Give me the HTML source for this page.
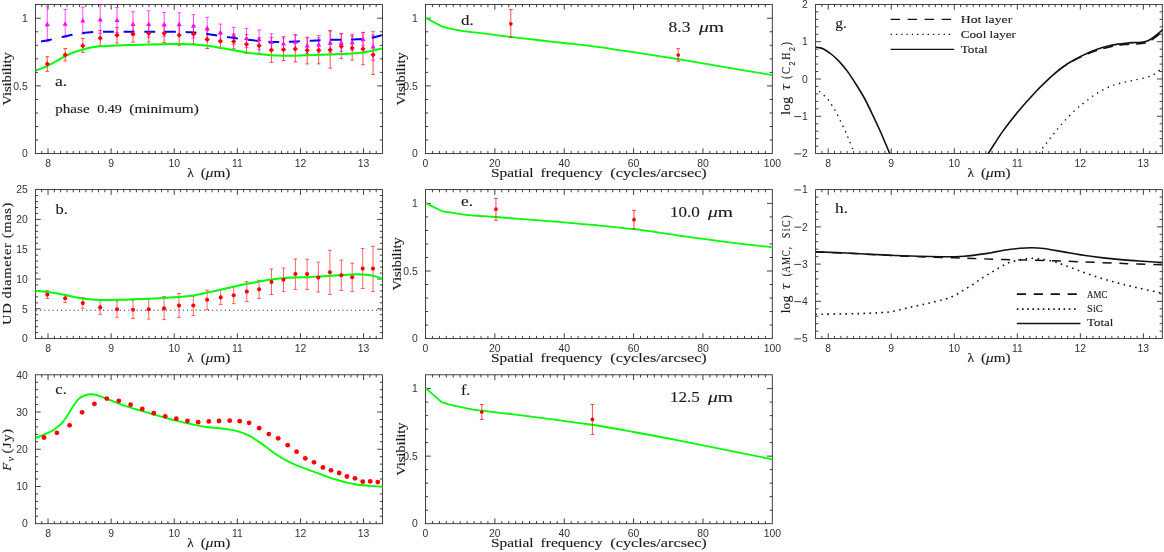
<!DOCTYPE html>
<html><head><meta charset="utf-8"><title>chart</title>
<style>html,body{margin:0;padding:0;background:#fff}svg{display:block;will-change:transform;transform:translateZ(0)}</style></head>
<body>
<svg width="1164" height="552" viewBox="0 0 1164 552" font-family='"Liberation Serif", serif' fill="#1a1a1a">
<style>text{stroke:#1a1a1a;stroke-width:.12px}.tk{font-family:"Liberation Sans", sans-serif;font-size:10.4px;fill:#333;stroke:none}.sb{font-family:"Liberation Sans", sans-serif;stroke-width:.1px}</style>
<rect width="1164" height="552" fill="#fff"/>
<path d="M41.71 153.6v-2.7M41.71 4.4v2.7M48.02 153.6v-5.3M48.02 4.4v5.3M54.33 153.6v-2.7M54.33 4.4v2.7M60.64 153.6v-2.7M60.64 4.4v2.7M66.95 153.6v-2.7M66.95 4.4v2.7M73.27 153.6v-2.7M73.27 4.4v2.7M79.58 153.6v-2.7M79.58 4.4v2.7M85.89 153.6v-2.7M85.89 4.4v2.7M92.2 153.6v-2.7M92.2 4.4v2.7M98.51 153.6v-2.7M98.51 4.4v2.7M104.82 153.6v-2.7M104.82 4.4v2.7M111.13 153.6v-5.3M111.13 4.4v5.3M117.44 153.6v-2.7M117.44 4.4v2.7M123.75 153.6v-2.7M123.75 4.4v2.7M130.06 153.6v-2.7M130.06 4.4v2.7M136.37 153.6v-2.7M136.37 4.4v2.7M142.69 153.6v-2.7M142.69 4.4v2.7M149 153.6v-2.7M149 4.4v2.7M155.31 153.6v-2.7M155.31 4.4v2.7M161.62 153.6v-2.7M161.62 4.4v2.7M167.93 153.6v-2.7M167.93 4.4v2.7M174.24 153.6v-5.3M174.24 4.4v5.3M180.55 153.6v-2.7M180.55 4.4v2.7M186.86 153.6v-2.7M186.86 4.4v2.7M193.17 153.6v-2.7M193.17 4.4v2.7M199.48 153.6v-2.7M199.48 4.4v2.7M205.79 153.6v-2.7M205.79 4.4v2.7M212.11 153.6v-2.7M212.11 4.4v2.7M218.42 153.6v-2.7M218.42 4.4v2.7M224.73 153.6v-2.7M224.73 4.4v2.7M231.04 153.6v-2.7M231.04 4.4v2.7M237.35 153.6v-5.3M237.35 4.4v5.3M243.66 153.6v-2.7M243.66 4.4v2.7M249.97 153.6v-2.7M249.97 4.4v2.7M256.28 153.6v-2.7M256.28 4.4v2.7M262.59 153.6v-2.7M262.59 4.4v2.7M268.9 153.6v-2.7M268.9 4.4v2.7M275.21 153.6v-2.7M275.21 4.4v2.7M281.53 153.6v-2.7M281.53 4.4v2.7M287.84 153.6v-2.7M287.84 4.4v2.7M294.15 153.6v-2.7M294.15 4.4v2.7M300.46 153.6v-5.3M300.46 4.4v5.3M306.77 153.6v-2.7M306.77 4.4v2.7M313.08 153.6v-2.7M313.08 4.4v2.7M319.39 153.6v-2.7M319.39 4.4v2.7M325.7 153.6v-2.7M325.7 4.4v2.7M332.01 153.6v-2.7M332.01 4.4v2.7M338.32 153.6v-2.7M338.32 4.4v2.7M344.63 153.6v-2.7M344.63 4.4v2.7M350.95 153.6v-2.7M350.95 4.4v2.7M357.26 153.6v-2.7M357.26 4.4v2.7M363.57 153.6v-5.3M363.57 4.4v5.3M369.88 153.6v-2.7M369.88 4.4v2.7M376.19 153.6v-2.7M376.19 4.4v2.7M35.4 140.06h2.7M382.5 140.06h-2.7M35.4 126.52h2.7M382.5 126.52h-2.7M35.4 112.98h2.7M382.5 112.98h-2.7M35.4 99.44h2.7M382.5 99.44h-2.7M35.4 85.9h5.3M382.5 85.9h-5.3M35.4 72.37h2.7M382.5 72.37h-2.7M35.4 58.83h2.7M382.5 58.83h-2.7M35.4 45.29h2.7M382.5 45.29h-2.7M35.4 31.75h2.7M382.5 31.75h-2.7M35.4 18.21h5.3M382.5 18.21h-5.3" stroke="#2a2a2a" stroke-width="0.9" fill="none"/>
<rect x="35.4" y="4.4" width="347.1" height="149.2" fill="none" stroke="#222" stroke-width="0.85"/>
<text x="48.02" y="166.5" text-anchor="middle" class="tk">8</text>
<text x="111.13" y="166.5" text-anchor="middle" class="tk">9</text>
<text x="174.24" y="166.5" text-anchor="middle" class="tk">10</text>
<text x="237.35" y="166.5" text-anchor="middle" class="tk">11</text>
<text x="300.46" y="166.5" text-anchor="middle" class="tk">12</text>
<text x="363.57" y="166.5" text-anchor="middle" class="tk">13</text>
<text x="27.7" y="157.35" text-anchor="end" class="tk">0</text>
<text x="27.7" y="89.65" text-anchor="end" class="tk">0.5</text>
<text x="27.7" y="21.96" text-anchor="end" class="tk">1</text>
<clipPath id="ca"><rect x="35.4" y="4.4" width="347" height="149.2"/></clipPath>
<g clip-path="url(#ca)">
<path d="M47.3 56.7V71.3M45.4 56.7h3.8M45.4 71.3h3.8" stroke="#ff0000" stroke-width="1" stroke-opacity="0.68" fill="none"/>
<path d="M65.2 48.5V61M63.3 48.5h3.8M63.3 61h3.8" stroke="#ff0000" stroke-width="1" stroke-opacity="0.68" fill="none"/>
<path d="M82.8 38.5V52.4M80.9 38.5h3.8M80.9 52.4h3.8" stroke="#ff0000" stroke-width="1" stroke-opacity="0.68" fill="none"/>
<path d="M100.2 30.4V45.7M98.3 30.4h3.8M98.3 45.7h3.8" stroke="#ff0000" stroke-width="1" stroke-opacity="0.68" fill="none"/>
<path d="M117 27.4V43M115.1 27.4h3.8M115.1 43h3.8" stroke="#ff0000" stroke-width="1" stroke-opacity="0.68" fill="none"/>
<path d="M133 25.4V42.1M131.1 25.4h3.8M131.1 42.1h3.8" stroke="#ff0000" stroke-width="1" stroke-opacity="0.68" fill="none"/>
<path d="M148.7 24.8V42.1M146.8 24.8h3.8M146.8 42.1h3.8" stroke="#ff0000" stroke-width="1" stroke-opacity="0.68" fill="none"/>
<path d="M164.2 24.8V42.4M162.3 24.8h3.8M162.3 42.4h3.8" stroke="#ff0000" stroke-width="1" stroke-opacity="0.68" fill="none"/>
<path d="M179.2 25.4V45.3M177.3 25.4h3.8M177.3 45.3h3.8" stroke="#ff0000" stroke-width="1" stroke-opacity="0.68" fill="none"/>
<path d="M193.5 25.4V43.7M191.6 25.4h3.8M191.6 43.7h3.8" stroke="#ff0000" stroke-width="1" stroke-opacity="0.68" fill="none"/>
<path d="M207.2 30.7V48.5M205.3 30.7h3.8M205.3 48.5h3.8" stroke="#ff0000" stroke-width="1" stroke-opacity="0.68" fill="none"/>
<path d="M220.4 34V48.5M218.5 34h3.8M218.5 48.5h3.8" stroke="#ff0000" stroke-width="1" stroke-opacity="0.68" fill="none"/>
<path d="M233.7 34V48.9M231.8 34h3.8M231.8 48.9h3.8" stroke="#ff0000" stroke-width="1" stroke-opacity="0.68" fill="none"/>
<path d="M246.5 34.6V53.5M244.6 34.6h3.8M244.6 53.5h3.8" stroke="#ff0000" stroke-width="1" stroke-opacity="0.68" fill="none"/>
<path d="M259.1 37.8V54.1M257.2 37.8h3.8M257.2 54.1h3.8" stroke="#ff0000" stroke-width="1" stroke-opacity="0.68" fill="none"/>
<path d="M271.4 37.4V62.4M269.5 37.4h3.8M269.5 62.4h3.8" stroke="#ff0000" stroke-width="1" stroke-opacity="0.68" fill="none"/>
<path d="M283.5 38V60.5M281.6 38h3.8M281.6 60.5h3.8" stroke="#ff0000" stroke-width="1" stroke-opacity="0.68" fill="none"/>
<path d="M295.3 35.1V62M293.4 35.1h3.8M293.4 62h3.8" stroke="#ff0000" stroke-width="1" stroke-opacity="0.68" fill="none"/>
<path d="M307.2 37.8V63.9M305.3 37.8h3.8M305.3 63.9h3.8" stroke="#ff0000" stroke-width="1" stroke-opacity="0.68" fill="none"/>
<path d="M318.7 37.8V63.9M316.8 37.8h3.8M316.8 63.9h3.8" stroke="#ff0000" stroke-width="1" stroke-opacity="0.68" fill="none"/>
<path d="M330.2 30.9V68.1M328.3 30.9h3.8M328.3 68.1h3.8" stroke="#ff0000" stroke-width="1" stroke-opacity="0.68" fill="none"/>
<path d="M341.3 33.7V58.7M339.4 33.7h3.8M339.4 58.7h3.8" stroke="#ff0000" stroke-width="1" stroke-opacity="0.68" fill="none"/>
<path d="M352.2 35.9V60M350.3 35.9h3.8M350.3 60h3.8" stroke="#ff0000" stroke-width="1" stroke-opacity="0.68" fill="none"/>
<path d="M363 32.6V64.8M361.1 32.6h3.8M361.1 64.8h3.8" stroke="#ff0000" stroke-width="1" stroke-opacity="0.68" fill="none"/>
<path d="M373.1 35.2V74.6M371.2 35.2h3.8M371.2 74.6h3.8" stroke="#ff0000" stroke-width="1" stroke-opacity="0.68" fill="none"/>
<path d="M47.3 6.3V41.7M45.4 6.3h3.8M45.4 41.7h3.8" stroke="#ff00ff" stroke-width="1" stroke-opacity="0.7" fill="none"/>
<path d="M65.2 9.4V37.2M63.3 9.4h3.8M63.3 37.2h3.8" stroke="#ff00ff" stroke-width="1" stroke-opacity="0.7" fill="none"/>
<path d="M82.8 7.2V33.9M80.9 7.2h3.8M80.9 33.9h3.8" stroke="#ff00ff" stroke-width="1" stroke-opacity="0.7" fill="none"/>
<path d="M100.2 5V33.3M98.3 5h3.8M98.3 33.3h3.8" stroke="#ff00ff" stroke-width="1" stroke-opacity="0.7" fill="none"/>
<path d="M117 7.6V32.6M115.1 7.6h3.8M115.1 32.6h3.8" stroke="#ff00ff" stroke-width="1" stroke-opacity="0.7" fill="none"/>
<path d="M133 11.7V35.2M131.1 11.7h3.8M131.1 35.2h3.8" stroke="#ff00ff" stroke-width="1" stroke-opacity="0.7" fill="none"/>
<path d="M148.7 10.8V37.2M146.8 10.8h3.8M146.8 37.2h3.8" stroke="#ff00ff" stroke-width="1" stroke-opacity="0.7" fill="none"/>
<path d="M164.2 12.5V36.2M162.3 12.5h3.8M162.3 36.2h3.8" stroke="#ff00ff" stroke-width="1" stroke-opacity="0.7" fill="none"/>
<path d="M179.2 12.8V35.2M177.3 12.8h3.8M177.3 35.2h3.8" stroke="#ff00ff" stroke-width="1" stroke-opacity="0.7" fill="none"/>
<path d="M193.5 14.7V37.8M191.6 14.7h3.8M191.6 37.8h3.8" stroke="#ff00ff" stroke-width="1" stroke-opacity="0.7" fill="none"/>
<path d="M207.2 17.3V39M205.3 17.3h3.8M205.3 39h3.8" stroke="#ff00ff" stroke-width="1" stroke-opacity="0.7" fill="none"/>
<path d="M220.4 24.1V40.4M218.5 24.1h3.8M218.5 40.4h3.8" stroke="#ff00ff" stroke-width="1" stroke-opacity="0.7" fill="none"/>
<path d="M233.7 27.4V44.3M231.8 27.4h3.8M231.8 44.3h3.8" stroke="#ff00ff" stroke-width="1" stroke-opacity="0.7" fill="none"/>
<path d="M246.5 28.3V47.6M244.6 28.3h3.8M244.6 47.6h3.8" stroke="#ff00ff" stroke-width="1" stroke-opacity="0.7" fill="none"/>
<path d="M259.1 30V49.6M257.2 30h3.8M257.2 49.6h3.8" stroke="#ff00ff" stroke-width="1" stroke-opacity="0.7" fill="none"/>
<path d="M271.4 33.8V50.9M269.5 33.8h3.8M269.5 50.9h3.8" stroke="#ff00ff" stroke-width="1" stroke-opacity="0.7" fill="none"/>
<path d="M283.5 36.5V50.2M281.6 36.5h3.8M281.6 50.2h3.8" stroke="#ff00ff" stroke-width="1" stroke-opacity="0.7" fill="none"/>
<path d="M295.3 34.6V48.3M293.4 34.6h3.8M293.4 48.3h3.8" stroke="#ff00ff" stroke-width="1" stroke-opacity="0.7" fill="none"/>
<path d="M307.2 37.2V53.5M305.3 37.2h3.8M305.3 53.5h3.8" stroke="#ff00ff" stroke-width="1" stroke-opacity="0.7" fill="none"/>
<path d="M318.7 35.5V52.2M316.8 35.5h3.8M316.8 52.2h3.8" stroke="#ff00ff" stroke-width="1" stroke-opacity="0.7" fill="none"/>
<path d="M330.2 30.7V52.2M328.3 30.7h3.8M328.3 52.2h3.8" stroke="#ff00ff" stroke-width="1" stroke-opacity="0.7" fill="none"/>
<path d="M341.3 33.7V51.5M339.4 33.7h3.8M339.4 51.5h3.8" stroke="#ff00ff" stroke-width="1" stroke-opacity="0.7" fill="none"/>
<path d="M352.2 34.2V50.2M350.3 34.2h3.8M350.3 50.2h3.8" stroke="#ff00ff" stroke-width="1" stroke-opacity="0.7" fill="none"/>
<path d="M363 32.3V45.7M361.1 32.3h3.8M361.1 45.7h3.8" stroke="#ff00ff" stroke-width="1" stroke-opacity="0.7" fill="none"/>
<path d="M373.1 31.7V60.3M371.2 31.7h3.8M371.2 60.3h3.8" stroke="#ff00ff" stroke-width="1" stroke-opacity="0.7" fill="none"/>
<path d="M35.2 70.4 C36.17 70.1 38.98 69.35 41 68.6 C43.02 67.85 44.8 67.12 47.3 65.9 C49.8 64.68 53.02 62.93 56 61.3 C58.98 59.67 62.2 57.62 65.2 56.1 C68.2 54.58 71.07 53.28 74 52.2 C76.93 51.12 79.97 50.37 82.8 49.6 C85.63 48.83 88.1 48.15 91 47.6 C93.9 47.05 95.87 46.67 100.2 46.3 C104.53 45.93 111.53 45.63 117 45.4 C122.47 45.17 127.72 45.05 133 44.9 C138.28 44.75 143.5 44.62 148.7 44.5 C153.9 44.38 159.12 44.28 164.2 44.2 C169.28 44.12 174.32 43.97 179.2 44 C184.08 44.03 188.83 44.1 193.5 44.4 C198.17 44.7 202.72 45.22 207.2 45.8 C211.68 46.38 215.98 47.17 220.4 47.9 C224.82 48.63 229.35 49.45 233.7 50.2 C238.05 50.95 242.27 51.75 246.5 52.4 C250.73 53.05 254.95 53.62 259.1 54.1 C263.25 54.58 267.33 55.02 271.4 55.3 C275.47 55.58 279.52 55.73 283.5 55.8 C287.48 55.87 291.35 55.78 295.3 55.7 C299.25 55.62 303.3 55.45 307.2 55.3 C311.1 55.15 314.87 54.95 318.7 54.8 C322.53 54.65 326.43 54.53 330.2 54.4 C333.97 54.27 337.63 54.15 341.3 54 C344.97 53.85 348.58 53.77 352.2 53.5 C355.82 53.23 359.52 52.9 363 52.4 C366.48 51.9 369.83 51.18 373.1 50.5 C376.37 49.82 381.02 48.67 382.6 48.3" stroke="#00ff00" stroke-width="2" fill="none"/>
<path d="M41 41.6 L43.7 41.04 L46.4 40.49 L49.1 39.93 L51.8 39.37M61.67 37.14 L64.37 36.5 L67.07 35.9 L69.77 35.32 L72.47 34.74M82.34 33.07 L85.04 32.76 L87.74 32.46 L90.44 32.17 L93.14 31.96M103.01 31.7 L105.71 31.7 L108.41 31.7 L111.11 31.7 L113.81 31.7M123.68 31.7 L126.38 31.7 L129.08 31.7 L131.78 31.7 L134.48 31.7M144.35 31.7 L147.05 31.7 L149.75 31.7 L152.45 31.7 L155.15 31.7M165.02 31.71 L167.72 31.72 L170.42 31.74 L173.12 31.76 L175.82 31.78M185.69 32.07 L188.39 32.19 L191.09 32.3 L193.79 32.43 L196.49 32.75M206.36 33.9 L209.06 34.27 L211.76 34.66 L214.46 35.05 L217.16 35.43M227.03 36.95 L229.73 37.37 L232.43 37.8 L235.13 38.18 L237.83 38.52M247.7 39.73 L250.4 40.03 L253.1 40.33 L255.8 40.63 L258.5 40.93M268.37 41.68 L271.07 41.88 L273.77 41.92 L276.47 41.94 L279.17 41.96M289.04 41.77 L291.74 41.65 L294.44 41.54 L297.14 41.41 L299.84 41.27M309.71 40.79 L312.41 40.67 L315.11 40.56 L317.81 40.44 L320.51 40.31M330.38 39.8 L333.08 39.8 L335.78 39.8 L338.48 39.8 L341.18 39.8M351.05 39.62 L353.75 39.5 L356.45 39.32 L359.15 39.15 L361.85 38.97M371.72 37.69 L374.42 37.17 L377.12 36.48 L379.82 35.8 L382.52 35.12" stroke="#0000ff" stroke-width="2" fill="none"/>
<path d="M47.3 61.3l2.6 2.6l-2.6 2.6l-2.6 -2.6z" fill="#ff0000"/>
<path d="M65.2 52.3l2.6 2.6l-2.6 2.6l-2.6 -2.6z" fill="#ff0000"/>
<path d="M82.8 43.2l2.6 2.6l-2.6 2.6l-2.6 -2.6z" fill="#ff0000"/>
<path d="M100.2 35.6l2.6 2.6l-2.6 2.6l-2.6 -2.6z" fill="#ff0000"/>
<path d="M117 32.6l2.6 2.6l-2.6 2.6l-2.6 -2.6z" fill="#ff0000"/>
<path d="M133 31.3l2.6 2.6l-2.6 2.6l-2.6 -2.6z" fill="#ff0000"/>
<path d="M148.7 30.7l2.6 2.6l-2.6 2.6l-2.6 -2.6z" fill="#ff0000"/>
<path d="M164.2 30.7l2.6 2.6l-2.6 2.6l-2.6 -2.6z" fill="#ff0000"/>
<path d="M179.2 32.6l2.6 2.6l-2.6 2.6l-2.6 -2.6z" fill="#ff0000"/>
<path d="M193.5 31.6l2.6 2.6l-2.6 2.6l-2.6 -2.6z" fill="#ff0000"/>
<path d="M207.2 36.8l2.6 2.6l-2.6 2.6l-2.6 -2.6z" fill="#ff0000"/>
<path d="M220.4 38.6l2.6 2.6l-2.6 2.6l-2.6 -2.6z" fill="#ff0000"/>
<path d="M233.7 38.9l2.6 2.6l-2.6 2.6l-2.6 -2.6z" fill="#ff0000"/>
<path d="M246.5 41.7l2.6 2.6l-2.6 2.6l-2.6 -2.6z" fill="#ff0000"/>
<path d="M259.1 43.1l2.6 2.6l-2.6 2.6l-2.6 -2.6z" fill="#ff0000"/>
<path d="M271.4 47.4l2.6 2.6l-2.6 2.6l-2.6 -2.6z" fill="#ff0000"/>
<path d="M283.5 47l2.6 2.6l-2.6 2.6l-2.6 -2.6z" fill="#ff0000"/>
<path d="M295.3 46.3l2.6 2.6l-2.6 2.6l-2.6 -2.6z" fill="#ff0000"/>
<path d="M307.2 47.7l2.6 2.6l-2.6 2.6l-2.6 -2.6z" fill="#ff0000"/>
<path d="M318.7 47.6l2.6 2.6l-2.6 2.6l-2.6 -2.6z" fill="#ff0000"/>
<path d="M330.2 47.2l2.6 2.6l-2.6 2.6l-2.6 -2.6z" fill="#ff0000"/>
<path d="M341.3 43.7l2.6 2.6l-2.6 2.6l-2.6 -2.6z" fill="#ff0000"/>
<path d="M352.2 45.4l2.6 2.6l-2.6 2.6l-2.6 -2.6z" fill="#ff0000"/>
<path d="M363 46.3l2.6 2.6l-2.6 2.6l-2.6 -2.6z" fill="#ff0000"/>
<path d="M373.1 52.2l2.6 2.6l-2.6 2.6l-2.6 -2.6z" fill="#ff0000"/>
<path d="M47.3 21.6l2.5 4.6h-5z" fill="#ff00ff"/>
<path d="M65.2 21.2l2.5 4.6h-5z" fill="#ff00ff"/>
<path d="M82.8 17.9l2.5 4.6h-5z" fill="#ff00ff"/>
<path d="M100.2 16.9l2.5 4.6h-5z" fill="#ff00ff"/>
<path d="M117 17.5l2.5 4.6h-5z" fill="#ff00ff"/>
<path d="M133 21.4l2.5 4.6h-5z" fill="#ff00ff"/>
<path d="M148.7 21.4l2.5 4.6h-5z" fill="#ff00ff"/>
<path d="M164.2 21.8l2.5 4.6h-5z" fill="#ff00ff"/>
<path d="M179.2 21.6l2.5 4.6h-5z" fill="#ff00ff"/>
<path d="M193.5 23.1l2.5 4.6h-5z" fill="#ff00ff"/>
<path d="M207.2 25.5l2.5 4.6h-5z" fill="#ff00ff"/>
<path d="M220.4 29.7l2.5 4.6h-5z" fill="#ff00ff"/>
<path d="M233.7 32.7l2.5 4.6h-5z" fill="#ff00ff"/>
<path d="M246.5 35.5l2.5 4.6h-5z" fill="#ff00ff"/>
<path d="M259.1 36.6l2.5 4.6h-5z" fill="#ff00ff"/>
<path d="M271.4 39.4l2.5 4.6h-5z" fill="#ff00ff"/>
<path d="M283.5 40.9l2.5 4.6h-5z" fill="#ff00ff"/>
<path d="M295.3 39.2l2.5 4.6h-5z" fill="#ff00ff"/>
<path d="M307.2 42.9l2.5 4.6h-5z" fill="#ff00ff"/>
<path d="M318.7 41.8l2.5 4.6h-5z" fill="#ff00ff"/>
<path d="M330.2 40.1l2.5 4.6h-5z" fill="#ff00ff"/>
<path d="M341.3 40.1l2.5 4.6h-5z" fill="#ff00ff"/>
<path d="M352.2 39.7l2.5 4.6h-5z" fill="#ff00ff"/>
<path d="M363 36.6l2.5 4.6h-5z" fill="#ff00ff"/>
<path d="M373.1 44l2.5 4.6h-5z" fill="#ff00ff"/>
</g>
<text x="55" y="86" font-size="15.5" textLength="12.2" lengthAdjust="spacingAndGlyphs" text-anchor="start" >a.</text>
<text x="55.3" y="113.3" font-size="13" textLength="34.3" lengthAdjust="spacingAndGlyphs" text-anchor="start" >phase</text>
<text x="97.2" y="113.3" font-size="13" textLength="24.6" lengthAdjust="spacingAndGlyphs" text-anchor="start" >0.49</text>
<text x="129.3" y="113.3" font-size="13" textLength="69.5" lengthAdjust="spacingAndGlyphs" text-anchor="start" >(minimum)</text>
<path d="M41.71 338.6v-2.7M41.71 189.6v2.7M48.02 338.6v-5.3M48.02 189.6v5.3M54.33 338.6v-2.7M54.33 189.6v2.7M60.64 338.6v-2.7M60.64 189.6v2.7M66.95 338.6v-2.7M66.95 189.6v2.7M73.27 338.6v-2.7M73.27 189.6v2.7M79.58 338.6v-2.7M79.58 189.6v2.7M85.89 338.6v-2.7M85.89 189.6v2.7M92.2 338.6v-2.7M92.2 189.6v2.7M98.51 338.6v-2.7M98.51 189.6v2.7M104.82 338.6v-2.7M104.82 189.6v2.7M111.13 338.6v-5.3M111.13 189.6v5.3M117.44 338.6v-2.7M117.44 189.6v2.7M123.75 338.6v-2.7M123.75 189.6v2.7M130.06 338.6v-2.7M130.06 189.6v2.7M136.37 338.6v-2.7M136.37 189.6v2.7M142.69 338.6v-2.7M142.69 189.6v2.7M149 338.6v-2.7M149 189.6v2.7M155.31 338.6v-2.7M155.31 189.6v2.7M161.62 338.6v-2.7M161.62 189.6v2.7M167.93 338.6v-2.7M167.93 189.6v2.7M174.24 338.6v-5.3M174.24 189.6v5.3M180.55 338.6v-2.7M180.55 189.6v2.7M186.86 338.6v-2.7M186.86 189.6v2.7M193.17 338.6v-2.7M193.17 189.6v2.7M199.48 338.6v-2.7M199.48 189.6v2.7M205.79 338.6v-2.7M205.79 189.6v2.7M212.11 338.6v-2.7M212.11 189.6v2.7M218.42 338.6v-2.7M218.42 189.6v2.7M224.73 338.6v-2.7M224.73 189.6v2.7M231.04 338.6v-2.7M231.04 189.6v2.7M237.35 338.6v-5.3M237.35 189.6v5.3M243.66 338.6v-2.7M243.66 189.6v2.7M249.97 338.6v-2.7M249.97 189.6v2.7M256.28 338.6v-2.7M256.28 189.6v2.7M262.59 338.6v-2.7M262.59 189.6v2.7M268.9 338.6v-2.7M268.9 189.6v2.7M275.21 338.6v-2.7M275.21 189.6v2.7M281.53 338.6v-2.7M281.53 189.6v2.7M287.84 338.6v-2.7M287.84 189.6v2.7M294.15 338.6v-2.7M294.15 189.6v2.7M300.46 338.6v-5.3M300.46 189.6v5.3M306.77 338.6v-2.7M306.77 189.6v2.7M313.08 338.6v-2.7M313.08 189.6v2.7M319.39 338.6v-2.7M319.39 189.6v2.7M325.7 338.6v-2.7M325.7 189.6v2.7M332.01 338.6v-2.7M332.01 189.6v2.7M338.32 338.6v-2.7M338.32 189.6v2.7M344.63 338.6v-2.7M344.63 189.6v2.7M350.95 338.6v-2.7M350.95 189.6v2.7M357.26 338.6v-2.7M357.26 189.6v2.7M363.57 338.6v-5.3M363.57 189.6v5.3M369.88 338.6v-2.7M369.88 189.6v2.7M376.19 338.6v-2.7M376.19 189.6v2.7M35.4 332.64h2.7M382.5 332.64h-2.7M35.4 326.68h2.7M382.5 326.68h-2.7M35.4 320.72h2.7M382.5 320.72h-2.7M35.4 314.76h2.7M382.5 314.76h-2.7M35.4 308.8h5.3M382.5 308.8h-5.3M35.4 302.84h2.7M382.5 302.84h-2.7M35.4 296.88h2.7M382.5 296.88h-2.7M35.4 290.92h2.7M382.5 290.92h-2.7M35.4 284.96h2.7M382.5 284.96h-2.7M35.4 279h5.3M382.5 279h-5.3M35.4 273.04h2.7M382.5 273.04h-2.7M35.4 267.08h2.7M382.5 267.08h-2.7M35.4 261.12h2.7M382.5 261.12h-2.7M35.4 255.16h2.7M382.5 255.16h-2.7M35.4 249.2h5.3M382.5 249.2h-5.3M35.4 243.24h2.7M382.5 243.24h-2.7M35.4 237.28h2.7M382.5 237.28h-2.7M35.4 231.32h2.7M382.5 231.32h-2.7M35.4 225.36h2.7M382.5 225.36h-2.7M35.4 219.4h5.3M382.5 219.4h-5.3M35.4 213.44h2.7M382.5 213.44h-2.7M35.4 207.48h2.7M382.5 207.48h-2.7M35.4 201.52h2.7M382.5 201.52h-2.7M35.4 195.56h2.7M382.5 195.56h-2.7" stroke="#2a2a2a" stroke-width="0.9" fill="none"/>
<rect x="35.4" y="189.6" width="347.1" height="149" fill="none" stroke="#222" stroke-width="0.85"/>
<text x="48.02" y="351.5" text-anchor="middle" class="tk">8</text>
<text x="111.13" y="351.5" text-anchor="middle" class="tk">9</text>
<text x="174.24" y="351.5" text-anchor="middle" class="tk">10</text>
<text x="237.35" y="351.5" text-anchor="middle" class="tk">11</text>
<text x="300.46" y="351.5" text-anchor="middle" class="tk">12</text>
<text x="363.57" y="351.5" text-anchor="middle" class="tk">13</text>
<text x="27.7" y="342.35" text-anchor="end" class="tk">0</text>
<text x="27.7" y="312.55" text-anchor="end" class="tk">5</text>
<text x="27.7" y="282.75" text-anchor="end" class="tk">10</text>
<text x="27.7" y="252.95" text-anchor="end" class="tk">15</text>
<text x="27.7" y="223.15" text-anchor="end" class="tk">20</text>
<text x="27.7" y="193.35" text-anchor="end" class="tk">25</text>
<path d="M35.8 310.3H382.4" stroke="#333" stroke-width="1.05" stroke-dasharray="1.1 3.1" fill="none"/>
<path d="M47.3 290.4V298.5M45.4 290.4h3.8M45.4 298.5h3.8" stroke="#ff0000" stroke-width="1" stroke-opacity="0.6" fill="none"/>
<path d="M65.2 294.3V302.4M63.3 294.3h3.8M63.3 302.4h3.8" stroke="#ff0000" stroke-width="1" stroke-opacity="0.6" fill="none"/>
<path d="M82.8 297.6V308.3M80.9 297.6h3.8M80.9 308.3h3.8" stroke="#ff0000" stroke-width="1" stroke-opacity="0.6" fill="none"/>
<path d="M100.2 300.2V314.3M98.3 300.2h3.8M98.3 314.3h3.8" stroke="#ff0000" stroke-width="1" stroke-opacity="0.6" fill="none"/>
<path d="M117 300.9V317.2M115.1 300.9h3.8M115.1 317.2h3.8" stroke="#ff0000" stroke-width="1" stroke-opacity="0.6" fill="none"/>
<path d="M133 300.2V318.5M131.1 300.2h3.8M131.1 318.5h3.8" stroke="#ff0000" stroke-width="1" stroke-opacity="0.6" fill="none"/>
<path d="M148.7 298.9V319.1M146.8 298.9h3.8M146.8 319.1h3.8" stroke="#ff0000" stroke-width="1" stroke-opacity="0.6" fill="none"/>
<path d="M164.1 296.6V319.6M162.2 296.6h3.8M162.2 319.6h3.8" stroke="#ff0000" stroke-width="1" stroke-opacity="0.6" fill="none"/>
<path d="M179 293.5V317.4M177.1 293.5h3.8M177.1 317.4h3.8" stroke="#ff0000" stroke-width="1" stroke-opacity="0.6" fill="none"/>
<path d="M193.3 296.1V315.5M191.4 296.1h3.8M191.4 315.5h3.8" stroke="#ff0000" stroke-width="1" stroke-opacity="0.6" fill="none"/>
<path d="M207.1 290.1V309.7M205.2 290.1h3.8M205.2 309.7h3.8" stroke="#ff0000" stroke-width="1" stroke-opacity="0.6" fill="none"/>
<path d="M220.7 289.4V304.6M218.8 289.4h3.8M218.8 304.6h3.8" stroke="#ff0000" stroke-width="1" stroke-opacity="0.6" fill="none"/>
<path d="M233.7 286.5V303.7M231.8 286.5h3.8M231.8 303.7h3.8" stroke="#ff0000" stroke-width="1" stroke-opacity="0.6" fill="none"/>
<path d="M246.8 281.6V301.6M244.9 281.6h3.8M244.9 301.6h3.8" stroke="#ff0000" stroke-width="1" stroke-opacity="0.6" fill="none"/>
<path d="M259.1 280.4V298.5M257.2 280.4h3.8M257.2 298.5h3.8" stroke="#ff0000" stroke-width="1" stroke-opacity="0.6" fill="none"/>
<path d="M271.5 269V294.5M269.6 269h3.8M269.6 294.5h3.8" stroke="#ff0000" stroke-width="1" stroke-opacity="0.6" fill="none"/>
<path d="M283.5 268V291.6M281.6 268h3.8M281.6 291.6h3.8" stroke="#ff0000" stroke-width="1" stroke-opacity="0.6" fill="none"/>
<path d="M295.4 259V289.4M293.5 259h3.8M293.5 289.4h3.8" stroke="#ff0000" stroke-width="1" stroke-opacity="0.6" fill="none"/>
<path d="M307.1 259.2V289.4M305.2 259.2h3.8M305.2 289.4h3.8" stroke="#ff0000" stroke-width="1" stroke-opacity="0.6" fill="none"/>
<path d="M318.3 262.2V292M316.4 262.2h3.8M316.4 292h3.8" stroke="#ff0000" stroke-width="1" stroke-opacity="0.6" fill="none"/>
<path d="M329.9 250.3V294.5M328 250.3h3.8M328 294.5h3.8" stroke="#ff0000" stroke-width="1" stroke-opacity="0.6" fill="none"/>
<path d="M341.3 260.1V290.5M339.4 260.1h3.8M339.4 290.5h3.8" stroke="#ff0000" stroke-width="1" stroke-opacity="0.6" fill="none"/>
<path d="M352.2 263.2V291.6M350.3 263.2h3.8M350.3 291.6h3.8" stroke="#ff0000" stroke-width="1" stroke-opacity="0.6" fill="none"/>
<path d="M362.7 248.5V288.5M360.8 248.5h3.8M360.8 288.5h3.8" stroke="#ff0000" stroke-width="1" stroke-opacity="0.6" fill="none"/>
<path d="M373 246.3V291.6M371.1 246.3h3.8M371.1 291.6h3.8" stroke="#ff0000" stroke-width="1" stroke-opacity="0.6" fill="none"/>
<path d="M35.2 290.8 C37.22 291 43.83 291.58 47.3 292 C50.77 292.42 53.02 292.8 56 293.3 C58.98 293.8 62.2 294.4 65.2 295 C68.2 295.6 71.07 296.32 74 296.9 C76.93 297.48 79.97 298.07 82.8 298.5 C85.63 298.93 88.1 299.25 91 299.5 C93.9 299.75 95.87 299.95 100.2 300 C104.53 300.05 111.53 299.92 117 299.8 C122.47 299.68 127.72 299.48 133 299.3 C138.28 299.12 143.52 298.93 148.7 298.7 C153.88 298.47 159.05 298.2 164.1 297.9 C169.15 297.6 175.18 297.17 179 296.9 C182.82 296.63 184.62 296.55 187 296.3 C189.38 296.05 191.13 295.75 193.3 295.4 C195.47 295.05 197.7 294.67 200 294.2 C202.3 293.73 203.65 293.33 207.1 292.6 C210.55 291.87 216.27 290.78 220.7 289.8 C225.13 288.82 229.35 287.7 233.7 286.7 C238.05 285.7 242.57 284.65 246.8 283.8 C251.03 282.95 254.98 282.32 259.1 281.6 C263.22 280.88 267.43 280.07 271.5 279.5 C275.57 278.93 279.52 278.53 283.5 278.2 C287.48 277.87 291.47 277.67 295.4 277.5 C299.33 277.33 303.28 277.35 307.1 277.2 C310.92 277.05 314.5 276.83 318.3 276.6 C322.1 276.37 326.07 276.08 329.9 275.8 C333.73 275.52 337.58 275.13 341.3 274.9 C345.02 274.67 348.63 274.47 352.2 274.4 C355.77 274.33 359.23 274.27 362.7 274.5 C366.17 274.73 369.68 275.08 373 275.8 C376.32 276.52 381 278.3 382.6 278.8" stroke="#00ff00" stroke-width="2.0" fill="none"/>
<circle cx="47.3" cy="294.6" r="2.05" fill="#ff0000"/>
<circle cx="65.2" cy="298.3" r="2.05" fill="#ff0000"/>
<circle cx="82.8" cy="303.1" r="2.05" fill="#ff0000"/>
<circle cx="100.2" cy="307.4" r="2.05" fill="#ff0000"/>
<circle cx="117" cy="309.3" r="2.05" fill="#ff0000"/>
<circle cx="133" cy="309.7" r="2.05" fill="#ff0000"/>
<circle cx="148.7" cy="309.3" r="2.05" fill="#ff0000"/>
<circle cx="164.1" cy="308.4" r="2.05" fill="#ff0000"/>
<circle cx="179" cy="305.6" r="2.05" fill="#ff0000"/>
<circle cx="193.3" cy="305.5" r="2.05" fill="#ff0000"/>
<circle cx="207.1" cy="299.7" r="2.05" fill="#ff0000"/>
<circle cx="220.7" cy="297.4" r="2.05" fill="#ff0000"/>
<circle cx="233.7" cy="295.2" r="2.05" fill="#ff0000"/>
<circle cx="246.8" cy="291.6" r="2.05" fill="#ff0000"/>
<circle cx="259.1" cy="289.2" r="2.05" fill="#ff0000"/>
<circle cx="271.5" cy="282" r="2.05" fill="#ff0000"/>
<circle cx="283.5" cy="279.8" r="2.05" fill="#ff0000"/>
<circle cx="295.4" cy="274" r="2.05" fill="#ff0000"/>
<circle cx="307.1" cy="274.1" r="2.05" fill="#ff0000"/>
<circle cx="318.3" cy="277.5" r="2.05" fill="#ff0000"/>
<circle cx="329.9" cy="272.2" r="2.05" fill="#ff0000"/>
<circle cx="341.3" cy="275.3" r="2.05" fill="#ff0000"/>
<circle cx="352.2" cy="277.3" r="2.05" fill="#ff0000"/>
<circle cx="362.7" cy="268.6" r="2.05" fill="#ff0000"/>
<circle cx="373" cy="268.6" r="2.05" fill="#ff0000"/>
<text x="55.4" y="213.6" font-size="15.5" textLength="12.4" lengthAdjust="spacingAndGlyphs" text-anchor="start" >b.</text>
<path d="M41.71 523.7v-2.7M41.71 374.8v2.7M48.02 523.7v-5.3M48.02 374.8v5.3M54.33 523.7v-2.7M54.33 374.8v2.7M60.64 523.7v-2.7M60.64 374.8v2.7M66.95 523.7v-2.7M66.95 374.8v2.7M73.27 523.7v-2.7M73.27 374.8v2.7M79.58 523.7v-2.7M79.58 374.8v2.7M85.89 523.7v-2.7M85.89 374.8v2.7M92.2 523.7v-2.7M92.2 374.8v2.7M98.51 523.7v-2.7M98.51 374.8v2.7M104.82 523.7v-2.7M104.82 374.8v2.7M111.13 523.7v-5.3M111.13 374.8v5.3M117.44 523.7v-2.7M117.44 374.8v2.7M123.75 523.7v-2.7M123.75 374.8v2.7M130.06 523.7v-2.7M130.06 374.8v2.7M136.37 523.7v-2.7M136.37 374.8v2.7M142.69 523.7v-2.7M142.69 374.8v2.7M149 523.7v-2.7M149 374.8v2.7M155.31 523.7v-2.7M155.31 374.8v2.7M161.62 523.7v-2.7M161.62 374.8v2.7M167.93 523.7v-2.7M167.93 374.8v2.7M174.24 523.7v-5.3M174.24 374.8v5.3M180.55 523.7v-2.7M180.55 374.8v2.7M186.86 523.7v-2.7M186.86 374.8v2.7M193.17 523.7v-2.7M193.17 374.8v2.7M199.48 523.7v-2.7M199.48 374.8v2.7M205.79 523.7v-2.7M205.79 374.8v2.7M212.11 523.7v-2.7M212.11 374.8v2.7M218.42 523.7v-2.7M218.42 374.8v2.7M224.73 523.7v-2.7M224.73 374.8v2.7M231.04 523.7v-2.7M231.04 374.8v2.7M237.35 523.7v-5.3M237.35 374.8v5.3M243.66 523.7v-2.7M243.66 374.8v2.7M249.97 523.7v-2.7M249.97 374.8v2.7M256.28 523.7v-2.7M256.28 374.8v2.7M262.59 523.7v-2.7M262.59 374.8v2.7M268.9 523.7v-2.7M268.9 374.8v2.7M275.21 523.7v-2.7M275.21 374.8v2.7M281.53 523.7v-2.7M281.53 374.8v2.7M287.84 523.7v-2.7M287.84 374.8v2.7M294.15 523.7v-2.7M294.15 374.8v2.7M300.46 523.7v-5.3M300.46 374.8v5.3M306.77 523.7v-2.7M306.77 374.8v2.7M313.08 523.7v-2.7M313.08 374.8v2.7M319.39 523.7v-2.7M319.39 374.8v2.7M325.7 523.7v-2.7M325.7 374.8v2.7M332.01 523.7v-2.7M332.01 374.8v2.7M338.32 523.7v-2.7M338.32 374.8v2.7M344.63 523.7v-2.7M344.63 374.8v2.7M350.95 523.7v-2.7M350.95 374.8v2.7M357.26 523.7v-2.7M357.26 374.8v2.7M363.57 523.7v-5.3M363.57 374.8v5.3M369.88 523.7v-2.7M369.88 374.8v2.7M376.19 523.7v-2.7M376.19 374.8v2.7M35.4 516.25h2.7M382.5 516.25h-2.7M35.4 508.81h2.7M382.5 508.81h-2.7M35.4 501.37h2.7M382.5 501.37h-2.7M35.4 493.92h2.7M382.5 493.92h-2.7M35.4 486.48h5.3M382.5 486.48h-5.3M35.4 479.03h2.7M382.5 479.03h-2.7M35.4 471.59h2.7M382.5 471.59h-2.7M35.4 464.14h2.7M382.5 464.14h-2.7M35.4 456.7h2.7M382.5 456.7h-2.7M35.4 449.25h5.3M382.5 449.25h-5.3M35.4 441.81h2.7M382.5 441.81h-2.7M35.4 434.36h2.7M382.5 434.36h-2.7M35.4 426.92h2.7M382.5 426.92h-2.7M35.4 419.47h2.7M382.5 419.47h-2.7M35.4 412.03h5.3M382.5 412.03h-5.3M35.4 404.58h2.7M382.5 404.58h-2.7M35.4 397.13h2.7M382.5 397.13h-2.7M35.4 389.69h2.7M382.5 389.69h-2.7M35.4 382.25h2.7M382.5 382.25h-2.7" stroke="#2a2a2a" stroke-width="0.9" fill="none"/>
<rect x="35.4" y="374.8" width="347.1" height="148.9" fill="none" stroke="#222" stroke-width="0.85"/>
<text x="48.02" y="536.6" text-anchor="middle" class="tk">8</text>
<text x="111.13" y="536.6" text-anchor="middle" class="tk">9</text>
<text x="174.24" y="536.6" text-anchor="middle" class="tk">10</text>
<text x="237.35" y="536.6" text-anchor="middle" class="tk">11</text>
<text x="300.46" y="536.6" text-anchor="middle" class="tk">12</text>
<text x="363.57" y="536.6" text-anchor="middle" class="tk">13</text>
<text x="27.7" y="527.45" text-anchor="end" class="tk">0</text>
<text x="27.7" y="490.23" text-anchor="end" class="tk">10</text>
<text x="27.7" y="453" text-anchor="end" class="tk">20</text>
<text x="27.7" y="415.78" text-anchor="end" class="tk">30</text>
<text x="27.7" y="378.55" text-anchor="end" class="tk">40</text>
<path d="M35.7 438 C37.08 437.43 41.28 435.78 44 434.6 C46.72 433.42 49.85 432.07 52 430.9 C54.15 429.73 55.13 429.03 56.9 427.6 C58.67 426.17 61.08 423.97 62.6 422.3 C64.12 420.63 64.83 419.32 66 417.6 C67.17 415.88 68.43 413.85 69.6 412 C70.77 410.15 71.85 408.25 73 406.5 C74.15 404.75 75.5 402.78 76.5 401.5 C77.5 400.22 78.07 399.6 79 398.8 C79.93 398 80.93 397.33 82.1 396.7 C83.27 396.07 84.62 395.42 86 395 C87.38 394.58 89.07 394.28 90.4 394.2 C91.73 394.12 92.83 394.3 94 394.5 C95.17 394.7 95.27 394.67 97.4 395.4 C99.53 396.13 103.23 397.53 106.8 398.9 C110.37 400.27 114.83 402.15 118.8 403.6 C122.77 405.05 126.68 406.35 130.6 407.6 C134.52 408.85 138.45 409.93 142.3 411.1 C146.15 412.27 149.88 413.5 153.7 414.6 C157.52 415.7 161.43 416.68 165.2 417.7 C168.97 418.72 172.58 419.77 176.3 420.7 C180.02 421.63 183.85 422.48 187.5 423.3 C191.15 424.12 194.65 424.93 198.2 425.6 C201.75 426.27 205.33 426.85 208.8 427.3 C212.27 427.75 215.52 427.92 219 428.3 C222.48 428.68 226.25 429.02 229.7 429.6 C233.15 430.18 236.47 430.78 239.7 431.8 C242.93 432.82 245.85 433.98 249.1 435.7 C252.35 437.42 255.92 439.88 259.2 442.1 C262.48 444.32 265.63 446.73 268.8 449 C271.97 451.27 275.05 453.67 278.2 455.7 C281.35 457.73 284.63 459.58 287.7 461.2 C290.77 462.82 293.67 464.15 296.6 465.4 C299.53 466.65 302.4 467.63 305.3 468.7 C308.2 469.77 311.07 470.73 314 471.8 C316.93 472.87 320.07 474.05 322.9 475.1 C325.73 476.15 328.28 477.2 331 478.1 C333.72 479 336.55 479.75 339.2 480.5 C341.85 481.25 344.27 481.98 346.9 482.6 C349.53 483.22 352.37 483.77 355 484.2 C357.63 484.63 360.17 484.92 362.7 485.2 C365.23 485.48 367.68 485.7 370.2 485.9 C372.72 486.1 375.73 486.22 377.8 486.4 C379.87 486.58 381.8 486.9 382.6 487" stroke="#00ff00" stroke-width="1.9" fill="none"/>
<circle cx="44" cy="437.5" r="2.4" fill="#ff0000"/>
<circle cx="56.9" cy="432.8" r="2.4" fill="#ff0000"/>
<circle cx="69.6" cy="425.3" r="2.4" fill="#ff0000"/>
<circle cx="82.1" cy="412.3" r="2.4" fill="#ff0000"/>
<circle cx="94.4" cy="403.8" r="2.4" fill="#ff0000"/>
<circle cx="106.8" cy="398.6" r="2.4" fill="#ff0000"/>
<circle cx="118.8" cy="400.8" r="2.4" fill="#ff0000"/>
<circle cx="130.6" cy="404.7" r="2.4" fill="#ff0000"/>
<circle cx="142.3" cy="409" r="2.4" fill="#ff0000"/>
<circle cx="153.7" cy="413.2" r="2.4" fill="#ff0000"/>
<circle cx="165.2" cy="416.3" r="2.4" fill="#ff0000"/>
<circle cx="176.3" cy="418.7" r="2.4" fill="#ff0000"/>
<circle cx="187.5" cy="421" r="2.4" fill="#ff0000"/>
<circle cx="198.2" cy="422.2" r="2.4" fill="#ff0000"/>
<circle cx="208.8" cy="421.4" r="2.4" fill="#ff0000"/>
<circle cx="219" cy="421" r="2.4" fill="#ff0000"/>
<circle cx="229.7" cy="420.7" r="2.4" fill="#ff0000"/>
<circle cx="239.7" cy="421.2" r="2.4" fill="#ff0000"/>
<circle cx="249.1" cy="422.8" r="2.4" fill="#ff0000"/>
<circle cx="259.2" cy="428.2" r="2.4" fill="#ff0000"/>
<circle cx="268.8" cy="434.1" r="2.4" fill="#ff0000"/>
<circle cx="278.2" cy="438.3" r="2.4" fill="#ff0000"/>
<circle cx="287.7" cy="445.2" r="2.4" fill="#ff0000"/>
<circle cx="296.6" cy="451.7" r="2.4" fill="#ff0000"/>
<circle cx="305.3" cy="458.3" r="2.4" fill="#ff0000"/>
<circle cx="314" cy="462.3" r="2.4" fill="#ff0000"/>
<circle cx="322.9" cy="467.5" r="2.4" fill="#ff0000"/>
<circle cx="331" cy="470.3" r="2.4" fill="#ff0000"/>
<circle cx="339.2" cy="473" r="2.4" fill="#ff0000"/>
<circle cx="346.9" cy="476.5" r="2.4" fill="#ff0000"/>
<circle cx="355" cy="478.3" r="2.4" fill="#ff0000"/>
<circle cx="362.7" cy="481.7" r="2.4" fill="#ff0000"/>
<circle cx="370.2" cy="481.4" r="2.4" fill="#ff0000"/>
<circle cx="377.8" cy="482.1" r="2.4" fill="#ff0000"/>
<text x="55.3" y="393.7" font-size="15.5" textLength="11.6" lengthAdjust="spacingAndGlyphs" text-anchor="start" >c.</text>
<path d="M432.44 153.6v-2.7M432.44 4.4v2.7M439.37 153.6v-2.7M439.37 4.4v2.7M446.31 153.6v-2.7M446.31 4.4v2.7M453.24 153.6v-2.7M453.24 4.4v2.7M460.18 153.6v-2.7M460.18 4.4v2.7M467.12 153.6v-2.7M467.12 4.4v2.7M474.05 153.6v-2.7M474.05 4.4v2.7M480.99 153.6v-2.7M480.99 4.4v2.7M487.92 153.6v-2.7M487.92 4.4v2.7M494.86 153.6v-5.3M494.86 4.4v5.3M501.8 153.6v-2.7M501.8 4.4v2.7M508.73 153.6v-2.7M508.73 4.4v2.7M515.67 153.6v-2.7M515.67 4.4v2.7M522.6 153.6v-2.7M522.6 4.4v2.7M529.54 153.6v-2.7M529.54 4.4v2.7M536.48 153.6v-2.7M536.48 4.4v2.7M543.41 153.6v-2.7M543.41 4.4v2.7M550.35 153.6v-2.7M550.35 4.4v2.7M557.28 153.6v-2.7M557.28 4.4v2.7M564.22 153.6v-5.3M564.22 4.4v5.3M571.16 153.6v-2.7M571.16 4.4v2.7M578.09 153.6v-2.7M578.09 4.4v2.7M585.03 153.6v-2.7M585.03 4.4v2.7M591.96 153.6v-2.7M591.96 4.4v2.7M598.9 153.6v-2.7M598.9 4.4v2.7M605.84 153.6v-2.7M605.84 4.4v2.7M612.77 153.6v-2.7M612.77 4.4v2.7M619.71 153.6v-2.7M619.71 4.4v2.7M626.64 153.6v-2.7M626.64 4.4v2.7M633.58 153.6v-5.3M633.58 4.4v5.3M640.52 153.6v-2.7M640.52 4.4v2.7M647.45 153.6v-2.7M647.45 4.4v2.7M654.39 153.6v-2.7M654.39 4.4v2.7M661.32 153.6v-2.7M661.32 4.4v2.7M668.26 153.6v-2.7M668.26 4.4v2.7M675.2 153.6v-2.7M675.2 4.4v2.7M682.13 153.6v-2.7M682.13 4.4v2.7M689.07 153.6v-2.7M689.07 4.4v2.7M696 153.6v-2.7M696 4.4v2.7M702.94 153.6v-5.3M702.94 4.4v5.3M709.88 153.6v-2.7M709.88 4.4v2.7M716.81 153.6v-2.7M716.81 4.4v2.7M723.75 153.6v-2.7M723.75 4.4v2.7M730.68 153.6v-2.7M730.68 4.4v2.7M737.62 153.6v-2.7M737.62 4.4v2.7M744.56 153.6v-2.7M744.56 4.4v2.7M751.49 153.6v-2.7M751.49 4.4v2.7M758.43 153.6v-2.7M758.43 4.4v2.7M765.36 153.6v-2.7M765.36 4.4v2.7M425.5 140.06h2.7M772.3 140.06h-2.7M425.5 126.52h2.7M772.3 126.52h-2.7M425.5 112.98h2.7M772.3 112.98h-2.7M425.5 99.44h2.7M772.3 99.44h-2.7M425.5 85.9h5.3M772.3 85.9h-5.3M425.5 72.37h2.7M772.3 72.37h-2.7M425.5 58.83h2.7M772.3 58.83h-2.7M425.5 45.29h2.7M772.3 45.29h-2.7M425.5 31.75h2.7M772.3 31.75h-2.7M425.5 18.21h5.3M772.3 18.21h-5.3" stroke="#2a2a2a" stroke-width="0.9" fill="none"/>
<rect x="425.5" y="4.4" width="346.8" height="149.2" fill="none" stroke="#222" stroke-width="0.85"/>
<text x="425.5" y="166.5" text-anchor="middle" class="tk">0</text>
<text x="494.86" y="166.5" text-anchor="middle" class="tk">20</text>
<text x="564.22" y="166.5" text-anchor="middle" class="tk">40</text>
<text x="633.58" y="166.5" text-anchor="middle" class="tk">60</text>
<text x="702.94" y="166.5" text-anchor="middle" class="tk">80</text>
<text x="772.3" y="166.5" text-anchor="middle" class="tk">100</text>
<text x="417.8" y="157.35" text-anchor="end" class="tk">0</text>
<text x="417.8" y="89.65" text-anchor="end" class="tk">0.5</text>
<text x="417.8" y="21.96" text-anchor="end" class="tk">1</text>
<path d="M425.7 17.9 L441.3 26.1 L441.3 26.1 C442.42 26.43 445.53 27.47 448 28.1 C450.47 28.73 452.15 29.22 456.1 29.9 C460.05 30.58 465.33 31.38 471.7 32.2 C478.07 33.02 487.83 34.02 494.3 34.8 C500.77 35.58 503.25 36.03 510.5 36.9 C517.75 37.77 528.9 38.98 537.8 40 C546.7 41.02 555.2 42.02 563.9 43 C572.6 43.98 578.4 44.37 590 45.9 C601.6 47.43 618.8 50 633.5 52.2 C648.2 54.4 662.27 56.5 678.2 59.1 C694.13 61.7 713.37 65.13 729.1 67.8 C744.83 70.47 765.35 73.88 772.6 75.1" stroke="#00ff00" stroke-width="1.8" fill="none" stroke-linejoin="round"/>
<path d="M510.8 9.5V37.4M508.9 9.5h3.8M508.9 37.4h3.8" stroke="#ff0000" stroke-width="1" stroke-opacity="0.7" fill="none"/>
<circle cx="510.8" cy="23.8" r="1.85" fill="#ff0000"/>
<path d="M678.2 48.7V61.2M676.3 48.7h3.8M676.3 61.2h3.8" stroke="#ff0000" stroke-width="1" stroke-opacity="0.7" fill="none"/>
<circle cx="678.2" cy="55" r="1.85" fill="#ff0000"/>
<text x="461" y="24.7" font-size="15.5" textLength="12.7" lengthAdjust="spacingAndGlyphs" text-anchor="start" >d.</text>
<text x="668.6" y="31.8" font-size="15.5" textLength="21.9" lengthAdjust="spacingAndGlyphs" text-anchor="start" >8.3</text>
<text x="698.9" y="31.8" font-size="15.5" textLength="25.0" lengthAdjust="spacingAndGlyphs"><tspan font-style="italic">μ</tspan>m</text>
<path d="M432.44 338.6v-2.7M432.44 189.6v2.7M439.37 338.6v-2.7M439.37 189.6v2.7M446.31 338.6v-2.7M446.31 189.6v2.7M453.24 338.6v-2.7M453.24 189.6v2.7M460.18 338.6v-2.7M460.18 189.6v2.7M467.12 338.6v-2.7M467.12 189.6v2.7M474.05 338.6v-2.7M474.05 189.6v2.7M480.99 338.6v-2.7M480.99 189.6v2.7M487.92 338.6v-2.7M487.92 189.6v2.7M494.86 338.6v-5.3M494.86 189.6v5.3M501.8 338.6v-2.7M501.8 189.6v2.7M508.73 338.6v-2.7M508.73 189.6v2.7M515.67 338.6v-2.7M515.67 189.6v2.7M522.6 338.6v-2.7M522.6 189.6v2.7M529.54 338.6v-2.7M529.54 189.6v2.7M536.48 338.6v-2.7M536.48 189.6v2.7M543.41 338.6v-2.7M543.41 189.6v2.7M550.35 338.6v-2.7M550.35 189.6v2.7M557.28 338.6v-2.7M557.28 189.6v2.7M564.22 338.6v-5.3M564.22 189.6v5.3M571.16 338.6v-2.7M571.16 189.6v2.7M578.09 338.6v-2.7M578.09 189.6v2.7M585.03 338.6v-2.7M585.03 189.6v2.7M591.96 338.6v-2.7M591.96 189.6v2.7M598.9 338.6v-2.7M598.9 189.6v2.7M605.84 338.6v-2.7M605.84 189.6v2.7M612.77 338.6v-2.7M612.77 189.6v2.7M619.71 338.6v-2.7M619.71 189.6v2.7M626.64 338.6v-2.7M626.64 189.6v2.7M633.58 338.6v-5.3M633.58 189.6v5.3M640.52 338.6v-2.7M640.52 189.6v2.7M647.45 338.6v-2.7M647.45 189.6v2.7M654.39 338.6v-2.7M654.39 189.6v2.7M661.32 338.6v-2.7M661.32 189.6v2.7M668.26 338.6v-2.7M668.26 189.6v2.7M675.2 338.6v-2.7M675.2 189.6v2.7M682.13 338.6v-2.7M682.13 189.6v2.7M689.07 338.6v-2.7M689.07 189.6v2.7M696 338.6v-2.7M696 189.6v2.7M702.94 338.6v-5.3M702.94 189.6v5.3M709.88 338.6v-2.7M709.88 189.6v2.7M716.81 338.6v-2.7M716.81 189.6v2.7M723.75 338.6v-2.7M723.75 189.6v2.7M730.68 338.6v-2.7M730.68 189.6v2.7M737.62 338.6v-2.7M737.62 189.6v2.7M744.56 338.6v-2.7M744.56 189.6v2.7M751.49 338.6v-2.7M751.49 189.6v2.7M758.43 338.6v-2.7M758.43 189.6v2.7M765.36 338.6v-2.7M765.36 189.6v2.7M425.5 325.08h2.7M772.3 325.08h-2.7M425.5 311.56h2.7M772.3 311.56h-2.7M425.5 298.04h2.7M772.3 298.04h-2.7M425.5 284.52h2.7M772.3 284.52h-2.7M425.5 271h5.3M772.3 271h-5.3M425.5 257.47h2.7M772.3 257.47h-2.7M425.5 243.95h2.7M772.3 243.95h-2.7M425.5 230.43h2.7M772.3 230.43h-2.7M425.5 216.91h2.7M772.3 216.91h-2.7M425.5 203.39h5.3M772.3 203.39h-5.3" stroke="#2a2a2a" stroke-width="0.9" fill="none"/>
<rect x="425.5" y="189.6" width="346.8" height="149" fill="none" stroke="#222" stroke-width="0.85"/>
<text x="425.5" y="351.5" text-anchor="middle" class="tk">0</text>
<text x="494.86" y="351.5" text-anchor="middle" class="tk">20</text>
<text x="564.22" y="351.5" text-anchor="middle" class="tk">40</text>
<text x="633.58" y="351.5" text-anchor="middle" class="tk">60</text>
<text x="702.94" y="351.5" text-anchor="middle" class="tk">80</text>
<text x="772.3" y="351.5" text-anchor="middle" class="tk">100</text>
<text x="417.8" y="342.35" text-anchor="end" class="tk">0</text>
<text x="417.8" y="274.75" text-anchor="end" class="tk">0.5</text>
<text x="417.8" y="207.14" text-anchor="end" class="tk">1</text>
<path d="M425.7 203.1 L441.3 210.8 L441.3 210.8 C442.42 211.03 445.53 211.77 448 212.2 C450.47 212.63 452.15 212.88 456.1 213.4 C460.05 213.92 465.1 214.7 471.7 215.3 C478.3 215.9 486.13 216.27 495.7 217 C505.27 217.73 517.73 218.82 529.1 219.7 C540.47 220.58 553.75 221.47 563.9 222.3 C574.05 223.13 578.32 223.55 590 224.7 C601.68 225.85 619.5 227.43 634 229.2 C648.5 230.97 661.15 233.12 677 235.3 C692.85 237.48 713.17 240.3 729.1 242.3 C745.03 244.3 765.35 246.47 772.6 247.3" stroke="#00ff00" stroke-width="1.8" fill="none" stroke-linejoin="round"/>
<path d="M495.95 198.4V220.3M494.05 198.4h3.8M494.05 220.3h3.8" stroke="#ff0000" stroke-width="1" stroke-opacity="0.7" fill="none"/>
<circle cx="495.95" cy="209.2" r="1.85" fill="#ff0000"/>
<path d="M634 210.4V229M632.1 210.4h3.8M632.1 229h3.8" stroke="#ff0000" stroke-width="1" stroke-opacity="0.7" fill="none"/>
<circle cx="634" cy="219.7" r="1.85" fill="#ff0000"/>
<text x="461" y="206.1" font-size="15.5" textLength="12" lengthAdjust="spacingAndGlyphs" text-anchor="start" >e.</text>
<text x="670" y="217" font-size="15.5" textLength="29.9" lengthAdjust="spacingAndGlyphs" text-anchor="start" >10.0</text>
<text x="708" y="217" font-size="15.5" textLength="25.0" lengthAdjust="spacingAndGlyphs"><tspan font-style="italic">μ</tspan>m</text>
<path d="M432.44 523.7v-2.7M432.44 374.8v2.7M439.37 523.7v-2.7M439.37 374.8v2.7M446.31 523.7v-2.7M446.31 374.8v2.7M453.24 523.7v-2.7M453.24 374.8v2.7M460.18 523.7v-2.7M460.18 374.8v2.7M467.12 523.7v-2.7M467.12 374.8v2.7M474.05 523.7v-2.7M474.05 374.8v2.7M480.99 523.7v-2.7M480.99 374.8v2.7M487.92 523.7v-2.7M487.92 374.8v2.7M494.86 523.7v-5.3M494.86 374.8v5.3M501.8 523.7v-2.7M501.8 374.8v2.7M508.73 523.7v-2.7M508.73 374.8v2.7M515.67 523.7v-2.7M515.67 374.8v2.7M522.6 523.7v-2.7M522.6 374.8v2.7M529.54 523.7v-2.7M529.54 374.8v2.7M536.48 523.7v-2.7M536.48 374.8v2.7M543.41 523.7v-2.7M543.41 374.8v2.7M550.35 523.7v-2.7M550.35 374.8v2.7M557.28 523.7v-2.7M557.28 374.8v2.7M564.22 523.7v-5.3M564.22 374.8v5.3M571.16 523.7v-2.7M571.16 374.8v2.7M578.09 523.7v-2.7M578.09 374.8v2.7M585.03 523.7v-2.7M585.03 374.8v2.7M591.96 523.7v-2.7M591.96 374.8v2.7M598.9 523.7v-2.7M598.9 374.8v2.7M605.84 523.7v-2.7M605.84 374.8v2.7M612.77 523.7v-2.7M612.77 374.8v2.7M619.71 523.7v-2.7M619.71 374.8v2.7M626.64 523.7v-2.7M626.64 374.8v2.7M633.58 523.7v-5.3M633.58 374.8v5.3M640.52 523.7v-2.7M640.52 374.8v2.7M647.45 523.7v-2.7M647.45 374.8v2.7M654.39 523.7v-2.7M654.39 374.8v2.7M661.32 523.7v-2.7M661.32 374.8v2.7M668.26 523.7v-2.7M668.26 374.8v2.7M675.2 523.7v-2.7M675.2 374.8v2.7M682.13 523.7v-2.7M682.13 374.8v2.7M689.07 523.7v-2.7M689.07 374.8v2.7M696 523.7v-2.7M696 374.8v2.7M702.94 523.7v-5.3M702.94 374.8v5.3M709.88 523.7v-2.7M709.88 374.8v2.7M716.81 523.7v-2.7M716.81 374.8v2.7M723.75 523.7v-2.7M723.75 374.8v2.7M730.68 523.7v-2.7M730.68 374.8v2.7M737.62 523.7v-2.7M737.62 374.8v2.7M744.56 523.7v-2.7M744.56 374.8v2.7M751.49 523.7v-2.7M751.49 374.8v2.7M758.43 523.7v-2.7M758.43 374.8v2.7M765.36 523.7v-2.7M765.36 374.8v2.7M425.5 510.19h2.7M772.3 510.19h-2.7M425.5 496.68h2.7M772.3 496.68h-2.7M425.5 483.16h2.7M772.3 483.16h-2.7M425.5 469.65h2.7M772.3 469.65h-2.7M425.5 456.14h5.3M772.3 456.14h-5.3M425.5 442.63h2.7M772.3 442.63h-2.7M425.5 429.12h2.7M772.3 429.12h-2.7M425.5 415.61h2.7M772.3 415.61h-2.7M425.5 402.09h2.7M772.3 402.09h-2.7M425.5 388.58h5.3M772.3 388.58h-5.3" stroke="#2a2a2a" stroke-width="0.9" fill="none"/>
<rect x="425.5" y="374.8" width="346.8" height="148.9" fill="none" stroke="#222" stroke-width="0.85"/>
<text x="425.5" y="536.6" text-anchor="middle" class="tk">0</text>
<text x="494.86" y="536.6" text-anchor="middle" class="tk">20</text>
<text x="564.22" y="536.6" text-anchor="middle" class="tk">40</text>
<text x="633.58" y="536.6" text-anchor="middle" class="tk">60</text>
<text x="702.94" y="536.6" text-anchor="middle" class="tk">80</text>
<text x="772.3" y="536.6" text-anchor="middle" class="tk">100</text>
<text x="417.8" y="527.45" text-anchor="end" class="tk">0</text>
<text x="417.8" y="459.89" text-anchor="end" class="tk">0.5</text>
<text x="417.8" y="392.33" text-anchor="end" class="tk">1</text>
<path d="M425.7 388.1 L441.3 401.9 L441.3 401.9 C442.42 402.28 445.53 403.48 448 404.2 C450.47 404.92 452.15 405.35 456.1 406.2 C460.05 407.05 467.42 408.55 471.7 409.3 C475.98 410.05 475.13 409.88 481.8 410.7 C488.47 411.52 500.92 412.88 511.7 414.2 C522.48 415.52 533.45 416.88 546.5 418.6 C559.55 420.32 575.5 422.27 590 424.5 C604.5 426.73 619 429.4 633.5 432 C648 434.6 661.07 436.98 677 440.1 C692.93 443.22 713.17 447.48 729.1 450.7 C745.03 453.92 765.35 457.95 772.6 459.4" stroke="#00ff00" stroke-width="1.8" fill="none" stroke-linejoin="round"/>
<path d="M481.8 404.5V419.4M479.9 404.5h3.8M479.9 419.4h3.8" stroke="#ff0000" stroke-width="1" stroke-opacity="0.7" fill="none"/>
<circle cx="481.8" cy="412" r="1.85" fill="#ff0000"/>
<path d="M592.4 404.5V434.6M590.5 404.5h3.8M590.5 434.6h3.8" stroke="#ff0000" stroke-width="1" stroke-opacity="0.7" fill="none"/>
<circle cx="592.4" cy="419.4" r="1.85" fill="#ff0000"/>
<text x="461" y="395.4" font-size="15.5" textLength="9.3" lengthAdjust="spacingAndGlyphs" text-anchor="start" >f.</text>
<text x="670" y="402" font-size="15.5" textLength="29.9" lengthAdjust="spacingAndGlyphs" text-anchor="start" >12.5</text>
<text x="708" y="402" font-size="15.5" textLength="25.0" lengthAdjust="spacingAndGlyphs"><tspan font-style="italic">μ</tspan>m</text>
<path d="M821.9 153.6v-2.7M821.9 4.4v2.7M828.21 153.6v-5.3M828.21 4.4v5.3M834.51 153.6v-2.7M834.51 4.4v2.7M840.81 153.6v-2.7M840.81 4.4v2.7M847.12 153.6v-2.7M847.12 4.4v2.7M853.42 153.6v-2.7M853.42 4.4v2.7M859.73 153.6v-2.7M859.73 4.4v2.7M866.03 153.6v-2.7M866.03 4.4v2.7M872.33 153.6v-2.7M872.33 4.4v2.7M878.64 153.6v-2.7M878.64 4.4v2.7M884.94 153.6v-2.7M884.94 4.4v2.7M891.24 153.6v-5.3M891.24 4.4v5.3M897.55 153.6v-2.7M897.55 4.4v2.7M903.85 153.6v-2.7M903.85 4.4v2.7M910.15 153.6v-2.7M910.15 4.4v2.7M916.46 153.6v-2.7M916.46 4.4v2.7M922.76 153.6v-2.7M922.76 4.4v2.7M929.07 153.6v-2.7M929.07 4.4v2.7M935.37 153.6v-2.7M935.37 4.4v2.7M941.67 153.6v-2.7M941.67 4.4v2.7M947.98 153.6v-2.7M947.98 4.4v2.7M954.28 153.6v-5.3M954.28 4.4v5.3M960.58 153.6v-2.7M960.58 4.4v2.7M966.89 153.6v-2.7M966.89 4.4v2.7M973.19 153.6v-2.7M973.19 4.4v2.7M979.49 153.6v-2.7M979.49 4.4v2.7M985.8 153.6v-2.7M985.8 4.4v2.7M992.1 153.6v-2.7M992.1 4.4v2.7M998.41 153.6v-2.7M998.41 4.4v2.7M1004.71 153.6v-2.7M1004.71 4.4v2.7M1011.01 153.6v-2.7M1011.01 4.4v2.7M1017.32 153.6v-5.3M1017.32 4.4v5.3M1023.62 153.6v-2.7M1023.62 4.4v2.7M1029.92 153.6v-2.7M1029.92 4.4v2.7M1036.23 153.6v-2.7M1036.23 4.4v2.7M1042.53 153.6v-2.7M1042.53 4.4v2.7M1048.83 153.6v-2.7M1048.83 4.4v2.7M1055.14 153.6v-2.7M1055.14 4.4v2.7M1061.44 153.6v-2.7M1061.44 4.4v2.7M1067.75 153.6v-2.7M1067.75 4.4v2.7M1074.05 153.6v-2.7M1074.05 4.4v2.7M1080.35 153.6v-5.3M1080.35 4.4v5.3M1086.66 153.6v-2.7M1086.66 4.4v2.7M1092.96 153.6v-2.7M1092.96 4.4v2.7M1099.26 153.6v-2.7M1099.26 4.4v2.7M1105.57 153.6v-2.7M1105.57 4.4v2.7M1111.87 153.6v-2.7M1111.87 4.4v2.7M1118.17 153.6v-2.7M1118.17 4.4v2.7M1124.48 153.6v-2.7M1124.48 4.4v2.7M1130.78 153.6v-2.7M1130.78 4.4v2.7M1137.09 153.6v-2.7M1137.09 4.4v2.7M1143.39 153.6v-5.3M1143.39 4.4v5.3M1149.69 153.6v-2.7M1149.69 4.4v2.7M1156 153.6v-2.7M1156 4.4v2.7M815.6 146.14h2.7M1162.3 146.14h-2.7M815.6 138.68h2.7M1162.3 138.68h-2.7M815.6 131.22h2.7M1162.3 131.22h-2.7M815.6 123.76h2.7M1162.3 123.76h-2.7M815.6 116.3h5.3M1162.3 116.3h-5.3M815.6 108.84h2.7M1162.3 108.84h-2.7M815.6 101.38h2.7M1162.3 101.38h-2.7M815.6 93.92h2.7M1162.3 93.92h-2.7M815.6 86.46h2.7M1162.3 86.46h-2.7M815.6 79h5.3M1162.3 79h-5.3M815.6 71.54h2.7M1162.3 71.54h-2.7M815.6 64.08h2.7M1162.3 64.08h-2.7M815.6 56.62h2.7M1162.3 56.62h-2.7M815.6 49.16h2.7M1162.3 49.16h-2.7M815.6 41.7h5.3M1162.3 41.7h-5.3M815.6 34.24h2.7M1162.3 34.24h-2.7M815.6 26.78h2.7M1162.3 26.78h-2.7M815.6 19.32h2.7M1162.3 19.32h-2.7M815.6 11.86h2.7M1162.3 11.86h-2.7" stroke="#2a2a2a" stroke-width="0.9" fill="none"/>
<rect x="815.6" y="4.4" width="346.7" height="149.2" fill="none" stroke="#222" stroke-width="0.85"/>
<text x="828.21" y="166.5" text-anchor="middle" class="tk">8</text>
<text x="891.24" y="166.5" text-anchor="middle" class="tk">9</text>
<text x="954.28" y="166.5" text-anchor="middle" class="tk">10</text>
<text x="1017.32" y="166.5" text-anchor="middle" class="tk">11</text>
<text x="1080.35" y="166.5" text-anchor="middle" class="tk">12</text>
<text x="1143.39" y="166.5" text-anchor="middle" class="tk">13</text>
<text x="807.9" y="157.35" text-anchor="end" class="tk">2</text>
<path d="M801.2 153.9h-6.9" stroke="#333" stroke-width="0.95" fill="none"/>
<text x="807.9" y="120.05" text-anchor="end" class="tk">1</text>
<path d="M801.2 116.6h-6.9" stroke="#333" stroke-width="0.95" fill="none"/>
<text x="807.9" y="82.75" text-anchor="end" class="tk">0</text>
<text x="807.9" y="45.45" text-anchor="end" class="tk">1</text>
<text x="807.9" y="8.15" text-anchor="end" class="tk">2</text>
<clipPath id="cg"><rect x="815.6" y="4.4" width="347" height="149.2"/></clipPath>
<g clip-path="url(#cg)" fill="none" stroke="#111">
<path d="M815.6 47.1 C816.25 47.2 818.18 47.38 819.5 47.7 C820.82 48.02 821.47 47.87 823.5 49 C825.53 50.13 828.98 52.32 831.7 54.5 C834.42 56.68 837.08 59.17 839.8 62.1 C842.52 65.03 845.28 68.38 848 72.1 C850.72 75.82 853.38 80.08 856.1 84.4 C858.82 88.72 861.58 93.02 864.3 98 C867.02 102.98 869.68 108.63 872.4 114.3 C875.12 119.97 877.7 125.43 880.6 132 C883.5 138.57 887.73 148.87 889.8 153.7 C891.87 158.53 892.47 159.78 893 161" stroke-width="1.6"/>
<path d="M985 159 C985.55 158.08 986.72 156.03 988.3 153.5 C989.88 150.97 992.27 147.23 994.5 143.8 C996.73 140.37 999.28 136.37 1001.7 132.9 C1004.12 129.43 1006.33 126.48 1009 123 C1011.67 119.52 1015.28 114.95 1017.7 112 C1020.12 109.05 1021.37 107.72 1023.5 105.3 C1025.63 102.88 1028.22 100.02 1030.5 97.5 C1032.78 94.98 1034.87 92.62 1037.2 90.2 C1039.53 87.78 1042.08 85.33 1044.5 83 C1046.92 80.67 1049.28 78.37 1051.7 76.2 C1054.12 74.03 1056.58 71.93 1059 70 C1061.42 68.07 1063.78 66.23 1066.2 64.6 C1068.62 62.97 1071.08 61.57 1073.5 60.2 C1075.92 58.83 1078.28 57.6 1080.7 56.4 C1083.12 55.2 1085.58 54.05 1088 53 C1090.42 51.95 1092.78 51.02 1095.2 50.1 C1097.62 49.18 1100.03 48.27 1102.5 47.5 C1104.97 46.73 1107.42 46.07 1110 45.5 C1112.58 44.93 1115.42 44.48 1118 44.1 C1120.58 43.72 1123 43.45 1125.5 43.2 C1128 42.95 1130.33 42.77 1133 42.6 C1135.67 42.43 1138.92 42.55 1141.5 42.2 C1144.08 41.85 1146.22 41.53 1148.5 40.5 C1150.78 39.47 1152.88 37.73 1155.2 36 C1157.52 34.27 1161.02 31.23 1162.4 30.1 C1163.78 28.97 1163.32 29.35 1163.5 29.2" stroke-width="1.6"/>
<path d="M1059 70 C1060.2 69.13 1063.78 66.35 1066.2 64.78 C1068.62 63.21 1071.08 61.88 1073.5 60.59 C1075.92 59.29 1078.28 58.12 1080.7 56.99 C1083.12 55.86 1085.58 54.78 1088 53.8 C1090.42 52.82 1092.78 51.95 1095.2 51.11 C1097.62 50.26 1100.03 49.42 1102.5 48.71 C1104.97 48.01 1107.42 47.44 1110 46.9 C1112.58 46.36 1115.42 45.88 1118 45.5 C1120.58 45.12 1123 44.85 1125.5 44.6 C1128 44.35 1130.33 44.17 1133 44 C1135.67 43.83 1138.92 43.95 1141.5 43.6 C1144.08 43.25 1146.22 42.93 1148.5 41.9 C1150.78 40.87 1152.88 39.13 1155.2 37.4 C1157.52 35.67 1161.02 32.63 1162.4 31.5 C1163.78 30.37 1163.32 30.75 1163.5 30.6" stroke-width="1.5" stroke-dasharray="10 6.5"/>
<path d="M819.3 91.2 C820.08 91.92 822.4 93.92 824 95.5 C825.6 97.08 826.95 98.02 828.9 100.7 C830.85 103.38 833.43 107.52 835.7 111.6 C837.97 115.68 840.45 120.9 842.5 125.2 C844.55 129.5 846.27 133.33 848 137.4 C849.73 141.47 851.82 146.75 852.9 149.6 C853.98 152.45 854.23 153.68 854.5 154.5" stroke-width="1.4" stroke-dasharray="1.4 4.6"/>
<path d="M1039.4 153.5 C1039.93 152.6 1041.52 149.72 1042.6 148.1 C1043.68 146.48 1044.73 145.32 1045.9 143.8 C1047.07 142.28 1048.38 140.58 1049.6 139 C1050.82 137.42 1051.95 135.85 1053.2 134.3 C1054.45 132.75 1055.07 132.08 1057.1 129.7 C1059.13 127.32 1062.07 123.57 1065.4 120 C1068.73 116.43 1074.38 110.87 1077.1 108.3 C1079.82 105.73 1080.13 105.82 1081.7 104.6 C1083.27 103.38 1084.92 102.25 1086.5 101 C1088.08 99.75 1089.58 98.3 1091.2 97.1 C1092.82 95.9 1094.52 94.83 1096.2 93.8 C1097.88 92.77 1099.53 91.87 1101.3 90.9 C1103.07 89.93 1104.87 88.92 1106.8 88 C1108.73 87.08 1109.97 86.37 1112.9 85.4 C1115.83 84.43 1120.58 83.13 1124.4 82.2 C1128.22 81.27 1132 80.63 1135.8 79.8 C1139.6 78.97 1143.93 78.25 1147.2 77.2 C1150.47 76.15 1152.95 75 1155.4 73.5 C1157.85 72 1160.82 69.08 1161.9 68.2" stroke-width="1.4" stroke-dasharray="1.4 4.6"/>
</g>
<path d="M890.6 19.4H951" stroke="#111" stroke-width="1.3" stroke-dasharray="9.5 7.5" fill="none"/>
<path d="M890.6 34.4H953" stroke="#111" stroke-width="1.3" stroke-dasharray="1.3 4" fill="none"/>
<path d="M890.6 49.3H954.2" stroke="#111" stroke-width="1.3" fill="none"/>
<text x="960.7" y="23.2" font-size="11" textLength="51.6" lengthAdjust="spacingAndGlyphs" text-anchor="start" >Hot layer</text>
<text x="960.7" y="38.1" font-size="11" textLength="55.3" lengthAdjust="spacingAndGlyphs" text-anchor="start" >Cool layer</text>
<text x="960.7" y="52.9" font-size="11" textLength="27" lengthAdjust="spacingAndGlyphs" text-anchor="start" >Total</text>
<text x="835.3" y="27.5" font-size="15.5" textLength="11.6" lengthAdjust="spacingAndGlyphs" text-anchor="start" >g.</text>
<path d="M821.9 338.6v-2.7M821.9 189.6v2.7M828.21 338.6v-5.3M828.21 189.6v5.3M834.51 338.6v-2.7M834.51 189.6v2.7M840.81 338.6v-2.7M840.81 189.6v2.7M847.12 338.6v-2.7M847.12 189.6v2.7M853.42 338.6v-2.7M853.42 189.6v2.7M859.73 338.6v-2.7M859.73 189.6v2.7M866.03 338.6v-2.7M866.03 189.6v2.7M872.33 338.6v-2.7M872.33 189.6v2.7M878.64 338.6v-2.7M878.64 189.6v2.7M884.94 338.6v-2.7M884.94 189.6v2.7M891.24 338.6v-5.3M891.24 189.6v5.3M897.55 338.6v-2.7M897.55 189.6v2.7M903.85 338.6v-2.7M903.85 189.6v2.7M910.15 338.6v-2.7M910.15 189.6v2.7M916.46 338.6v-2.7M916.46 189.6v2.7M922.76 338.6v-2.7M922.76 189.6v2.7M929.07 338.6v-2.7M929.07 189.6v2.7M935.37 338.6v-2.7M935.37 189.6v2.7M941.67 338.6v-2.7M941.67 189.6v2.7M947.98 338.6v-2.7M947.98 189.6v2.7M954.28 338.6v-5.3M954.28 189.6v5.3M960.58 338.6v-2.7M960.58 189.6v2.7M966.89 338.6v-2.7M966.89 189.6v2.7M973.19 338.6v-2.7M973.19 189.6v2.7M979.49 338.6v-2.7M979.49 189.6v2.7M985.8 338.6v-2.7M985.8 189.6v2.7M992.1 338.6v-2.7M992.1 189.6v2.7M998.41 338.6v-2.7M998.41 189.6v2.7M1004.71 338.6v-2.7M1004.71 189.6v2.7M1011.01 338.6v-2.7M1011.01 189.6v2.7M1017.32 338.6v-5.3M1017.32 189.6v5.3M1023.62 338.6v-2.7M1023.62 189.6v2.7M1029.92 338.6v-2.7M1029.92 189.6v2.7M1036.23 338.6v-2.7M1036.23 189.6v2.7M1042.53 338.6v-2.7M1042.53 189.6v2.7M1048.83 338.6v-2.7M1048.83 189.6v2.7M1055.14 338.6v-2.7M1055.14 189.6v2.7M1061.44 338.6v-2.7M1061.44 189.6v2.7M1067.75 338.6v-2.7M1067.75 189.6v2.7M1074.05 338.6v-2.7M1074.05 189.6v2.7M1080.35 338.6v-5.3M1080.35 189.6v5.3M1086.66 338.6v-2.7M1086.66 189.6v2.7M1092.96 338.6v-2.7M1092.96 189.6v2.7M1099.26 338.6v-2.7M1099.26 189.6v2.7M1105.57 338.6v-2.7M1105.57 189.6v2.7M1111.87 338.6v-2.7M1111.87 189.6v2.7M1118.17 338.6v-2.7M1118.17 189.6v2.7M1124.48 338.6v-2.7M1124.48 189.6v2.7M1130.78 338.6v-2.7M1130.78 189.6v2.7M1137.09 338.6v-2.7M1137.09 189.6v2.7M1143.39 338.6v-5.3M1143.39 189.6v5.3M1149.69 338.6v-2.7M1149.69 189.6v2.7M1156 338.6v-2.7M1156 189.6v2.7M815.6 331.15h2.7M1162.3 331.15h-2.7M815.6 323.7h2.7M1162.3 323.7h-2.7M815.6 316.25h2.7M1162.3 316.25h-2.7M815.6 308.8h2.7M1162.3 308.8h-2.7M815.6 301.35h5.3M1162.3 301.35h-5.3M815.6 293.9h2.7M1162.3 293.9h-2.7M815.6 286.45h2.7M1162.3 286.45h-2.7M815.6 279h2.7M1162.3 279h-2.7M815.6 271.55h2.7M1162.3 271.55h-2.7M815.6 264.1h5.3M1162.3 264.1h-5.3M815.6 256.65h2.7M1162.3 256.65h-2.7M815.6 249.2h2.7M1162.3 249.2h-2.7M815.6 241.75h2.7M1162.3 241.75h-2.7M815.6 234.3h2.7M1162.3 234.3h-2.7M815.6 226.85h5.3M1162.3 226.85h-5.3M815.6 219.4h2.7M1162.3 219.4h-2.7M815.6 211.95h2.7M1162.3 211.95h-2.7M815.6 204.5h2.7M1162.3 204.5h-2.7M815.6 197.05h2.7M1162.3 197.05h-2.7" stroke="#2a2a2a" stroke-width="0.9" fill="none"/>
<rect x="815.6" y="189.6" width="346.7" height="149" fill="none" stroke="#222" stroke-width="0.85"/>
<text x="828.21" y="351.5" text-anchor="middle" class="tk">8</text>
<text x="891.24" y="351.5" text-anchor="middle" class="tk">9</text>
<text x="954.28" y="351.5" text-anchor="middle" class="tk">10</text>
<text x="1017.32" y="351.5" text-anchor="middle" class="tk">11</text>
<text x="1080.35" y="351.5" text-anchor="middle" class="tk">12</text>
<text x="1143.39" y="351.5" text-anchor="middle" class="tk">13</text>
<text x="807.9" y="342.35" text-anchor="end" class="tk">5</text>
<path d="M801.2 338.9h-6.9" stroke="#333" stroke-width="0.95" fill="none"/>
<text x="807.9" y="305.1" text-anchor="end" class="tk">4</text>
<path d="M801.2 301.65h-6.9" stroke="#333" stroke-width="0.95" fill="none"/>
<text x="807.9" y="267.85" text-anchor="end" class="tk">3</text>
<path d="M801.2 264.4h-6.9" stroke="#333" stroke-width="0.95" fill="none"/>
<text x="807.9" y="230.6" text-anchor="end" class="tk">2</text>
<path d="M801.2 227.15h-6.9" stroke="#333" stroke-width="0.95" fill="none"/>
<text x="807.9" y="193.35" text-anchor="end" class="tk">1</text>
<path d="M801.2 189.9h-6.9" stroke="#333" stroke-width="0.95" fill="none"/>
<clipPath id="ch"><rect x="815.6" y="189.6" width="347" height="149"/></clipPath>
<g clip-path="url(#ch)" fill="none" stroke="#111">
<path d="M815.4 251.8 C820.53 252 835.02 252.48 846.2 253 C857.38 253.52 870.42 254.35 882.5 254.9 C894.58 255.45 909.12 255.98 918.7 256.3 C928.28 256.62 933.97 256.73 940 256.8 C946.03 256.87 950.9 256.78 954.9 256.7 C958.9 256.62 960.98 256.52 964 256.3 C967.02 256.08 969.68 255.8 973 255.4 C976.32 255 980.87 254.35 983.9 253.9 C986.93 253.45 987.88 253.3 991.2 252.7 C994.52 252.1 999.03 251.03 1003.8 250.3 C1008.57 249.57 1015.15 248.73 1019.8 248.3 C1024.45 247.87 1027.72 247.67 1031.7 247.7 C1035.68 247.73 1038.38 247.8 1043.7 248.5 C1049.02 249.2 1056.97 250.77 1063.6 251.9 C1070.23 253.03 1076.87 254.3 1083.5 255.3 C1090.13 256.3 1096.75 257.13 1103.4 257.9 C1110.05 258.67 1116.75 259.33 1123.4 259.9 C1130.05 260.47 1136.78 260.87 1143.3 261.3 C1149.82 261.73 1159.3 262.3 1162.5 262.5" stroke-width="1.6"/>
<path d="M815.4 252 C820.53 252.2 835.02 252.68 846.2 253.2 C857.38 253.72 870.42 254.52 882.5 255.1 C894.58 255.68 906.63 256.25 918.7 256.7 C930.77 257.15 945.85 257.5 954.9 257.8 C963.95 258.1 964.85 258.22 973 258.5 C981.15 258.78 992.02 259.17 1003.8 259.5 C1015.58 259.83 1030.42 260.1 1043.7 260.5 C1056.98 260.9 1070.22 261.4 1083.5 261.9 C1096.78 262.4 1110.23 263 1123.4 263.5 C1136.57 264 1155.98 264.67 1162.5 264.9" stroke-width="1.45" stroke-dasharray="9.1 7.8"/>
<path d="M815.4 314.3 C820.53 314.23 837.1 314.08 846.2 313.9 C855.3 313.72 863.95 313.43 870 313.2 C876.05 312.97 878.92 312.77 882.5 312.5 C886.08 312.23 886.98 312.45 891.5 311.6 C896.02 310.75 903.55 308.77 909.6 307.4 C915.65 306.03 921.75 304.82 927.8 303.4 C933.85 301.98 941.38 300.25 945.9 298.9 C950.42 297.55 951.88 296.82 954.9 295.3 C957.92 293.78 960.98 291.62 964 289.8 C967.02 287.98 969.98 286.37 973 284.4 C976.02 282.43 979.07 279.97 982.1 278 C985.13 276.03 988.18 274.4 991.2 272.6 C994.22 270.8 997.18 268.87 1000.2 267.2 C1003.22 265.53 1005.7 263.88 1009.3 262.6 C1012.9 261.32 1018.07 260.22 1021.8 259.5 C1025.53 258.78 1028.05 258.3 1031.7 258.3 C1035.35 258.3 1040.05 258.97 1043.7 259.5 C1047.35 260.03 1050.28 260.6 1053.6 261.5 C1056.92 262.4 1059.28 263.35 1063.6 264.9 C1067.92 266.45 1073.52 268.65 1079.5 270.8 C1085.48 272.95 1092.85 275.7 1099.5 277.8 C1106.15 279.9 1112.77 281.67 1119.4 283.4 C1126.03 285.13 1132.12 286.55 1139.3 288.2 C1146.48 289.85 1158.63 292.45 1162.5 293.3" stroke-width="1.6" stroke-dasharray="1.6 4.4"/>
</g>
<path d="M1016.8 294.1H1078.5" stroke="#111" stroke-width="1.55" stroke-dasharray="9.2 7.75" fill="none"/>
<path d="M1016.8 309.1H1079" stroke="#111" stroke-width="1.6" stroke-dasharray="1.6 3.6" fill="none"/>
<path d="M1016.8 323.6H1080.5" stroke="#111" stroke-width="1.5" fill="none"/>
<text x="1087.1" y="297.7" font-size="10.5" textLength="20.3" lengthAdjust="spacingAndGlyphs" text-anchor="start" >AMC</text>
<text x="1087.1" y="311.7" font-size="10.5" textLength="15.7" lengthAdjust="spacingAndGlyphs" text-anchor="start" >SiC</text>
<text x="1087.1" y="325.6" font-size="10.5" textLength="26.3" lengthAdjust="spacingAndGlyphs" text-anchor="start" >Total</text>
<text x="835.1" y="212.5" font-size="15.5" textLength="13" lengthAdjust="spacingAndGlyphs" text-anchor="start" >h.</text>
<text x="187.3" y="177.2" font-size="13.5" textLength="6.6" lengthAdjust="spacingAndGlyphs">λ</text>
<text x="200.8" y="177.2" font-size="13" textLength="29.6" lengthAdjust="spacingAndGlyphs">(<tspan font-style="italic">μ</tspan>m)</text>
<text x="187.3" y="362.2" font-size="13.5" textLength="6.6" lengthAdjust="spacingAndGlyphs">λ</text>
<text x="200.8" y="362.2" font-size="13" textLength="29.6" lengthAdjust="spacingAndGlyphs">(<tspan font-style="italic">μ</tspan>m)</text>
<text x="187.3" y="547.3" font-size="13.5" textLength="6.6" lengthAdjust="spacingAndGlyphs">λ</text>
<text x="200.8" y="547.3" font-size="13" textLength="29.6" lengthAdjust="spacingAndGlyphs">(<tspan font-style="italic">μ</tspan>m)</text>
<text x="967.5" y="177.2" font-size="13.5" textLength="6.6" lengthAdjust="spacingAndGlyphs">λ</text>
<text x="981" y="177.2" font-size="13" textLength="29.6" lengthAdjust="spacingAndGlyphs">(<tspan font-style="italic">μ</tspan>m)</text>
<text x="967.5" y="362.2" font-size="13.5" textLength="6.6" lengthAdjust="spacingAndGlyphs">λ</text>
<text x="981" y="362.2" font-size="13" textLength="29.6" lengthAdjust="spacingAndGlyphs">(<tspan font-style="italic">μ</tspan>m)</text>
<text x="491" y="176.6" font-size="12.7" textLength="42.6" lengthAdjust="spacingAndGlyphs" text-anchor="start" >Spatial</text>
<text x="540.6" y="176.6" font-size="12.7" textLength="61.9" lengthAdjust="spacingAndGlyphs" text-anchor="start" >frequency</text>
<text x="610.3" y="176.6" font-size="12.7" textLength="96.5" lengthAdjust="spacingAndGlyphs" text-anchor="start" >(cycles/arcsec)</text>
<text x="491" y="361.6" font-size="12.7" textLength="42.6" lengthAdjust="spacingAndGlyphs" text-anchor="start" >Spatial</text>
<text x="540.6" y="361.6" font-size="12.7" textLength="61.9" lengthAdjust="spacingAndGlyphs" text-anchor="start" >frequency</text>
<text x="610.3" y="361.6" font-size="12.7" textLength="96.5" lengthAdjust="spacingAndGlyphs" text-anchor="start" >(cycles/arcsec)</text>
<text x="491" y="546.7" font-size="12.7" textLength="42.6" lengthAdjust="spacingAndGlyphs" text-anchor="start" >Spatial</text>
<text x="540.6" y="546.7" font-size="12.7" textLength="61.9" lengthAdjust="spacingAndGlyphs" text-anchor="start" >frequency</text>
<text x="610.3" y="546.7" font-size="12.7" textLength="96.5" lengthAdjust="spacingAndGlyphs" text-anchor="start" >(cycles/arcsec)</text>
<text transform="translate(10.9 105.5) rotate(-90) scale(1.12 1)" font-size="13" textLength="47.5" lengthAdjust="spacing" >Visibility</text>
<text transform="translate(404.9 105.5) rotate(-90) scale(1.12 1)" font-size="13" textLength="47.5" lengthAdjust="spacing" >Visibility</text>
<text transform="translate(400.9 290.5) rotate(-90) scale(1.12 1)" font-size="13" textLength="47.5" lengthAdjust="spacing" >Visibility</text>
<text transform="translate(404.9 475.7) rotate(-90) scale(1.12 1)" font-size="13" textLength="47.5" lengthAdjust="spacing" >Visibility</text>
<text transform="translate(10.9 325) rotate(-90) scale(1.12 1)" font-size="13" textLength="109.29" lengthAdjust="spacing" >UD diameter (mas)</text>
<text transform="translate(10.9 470.8) rotate(-90) scale(1 1)" font-size="13" textLength="7.6" lengthAdjust="spacing" font-style="italic">F</text>
<text transform="translate(14 461.6) rotate(-90) scale(1 1)" font-size="10.5" textLength="4.8" lengthAdjust="spacing" font-style="italic">ν</text>
<text transform="translate(10.9 453.4) rotate(-90) scale(1.12 1)" font-size="13" textLength="21.96" lengthAdjust="spacing" >(Jy)</text>
<text transform="translate(790.3 114.7) rotate(-90) scale(1.05 1)" font-size="13" textLength="16.86" lengthAdjust="spacing" >log</text>
<text transform="translate(790.3 89.9) rotate(-90) scale(1.15 1)" font-size="14" textLength="7.3" lengthAdjust="spacing" font-style="italic">τ</text>
<text transform="translate(790.3 79) rotate(-90) scale(0.8 1)" font-size="12.8" textLength="46.12" lengthAdjust="spacing" >(C<tspan class="sb" font-size="8.6" dy="4.2">2</tspan><tspan dy="-4.2">H</tspan><tspan class="sb" font-size="8.6" dy="4.2">2</tspan><tspan dy="-4.2">)</tspan></text>
<text transform="translate(790.2 313.3) rotate(-90) scale(1.05 1)" font-size="13" textLength="16.86" lengthAdjust="spacing" >log</text>
<text transform="translate(790.2 289.4) rotate(-90) scale(1.15 1)" font-size="14" textLength="7.3" lengthAdjust="spacing" font-style="italic">τ</text>
<text transform="translate(790.2 276.3) rotate(-90) scale(0.7 1)" font-size="12.8" textLength="41.86" lengthAdjust="spacing" >(AMC,</text>
<text transform="translate(790.2 238.2) rotate(-90) scale(0.78 1)" font-size="12.8" textLength="29.1" lengthAdjust="spacing" >SiC)</text>
</svg>
</body></html>
